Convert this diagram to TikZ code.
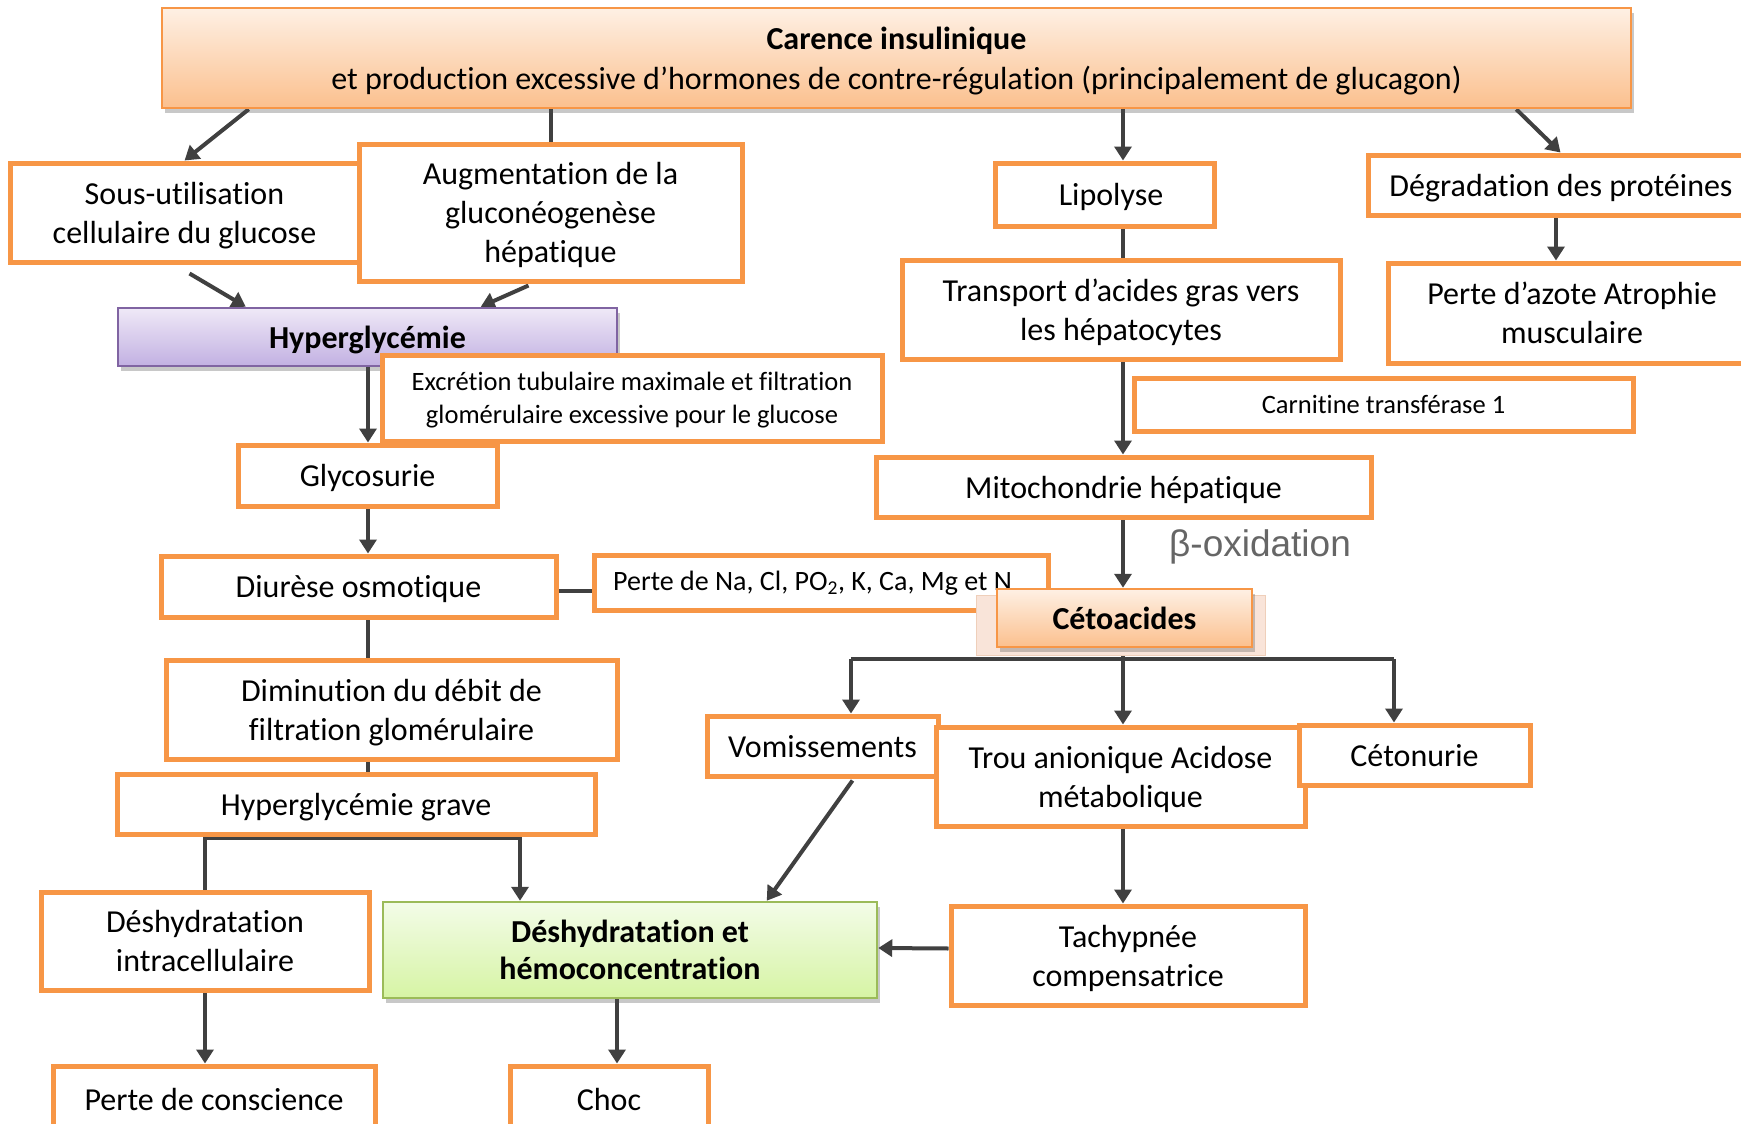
\documentclass[tikz,border=0pt]{standalone}
\usepackage{fontspec}
\setmainfont{Carlito}[Ligatures=NoCommon, Contextuals=NoAlternate, RawFeature={-clig}]
\newfontfamily\arialfont{Liberation Sans}
\usetikzlibrary{arrows.meta,calc,shadows,backgrounds}
\definecolor{boxor}{HTML}{F79646}
\definecolor{arrgray}{HTML}{404040}
\definecolor{ortop}{HTML}{FEF0E4}
\definecolor{orbot}{HTML}{FBC08E}
\definecolor{purtop}{HTML}{EFE9F7}
\definecolor{purbot}{HTML}{C2B0E2}
\definecolor{purdraw}{HTML}{8064A2}
\definecolor{grtop}{HTML}{F3FCE8}
\definecolor{grbot}{HTML}{D6F4A4}
\definecolor{grdraw}{HTML}{9BBB59}
\definecolor{cetoback}{HTML}{F8DDD0}
\tikzset{
  box/.style={draw=boxor, line width=5pt, fill=white, rectangle, inner sep=0pt, text depth=0pt,
    align=center, text=black, font=\fontsize{32}{39}\selectfont},
  smallbox/.style={box, font=\fontsize{26.5}{32.5}\selectfont},
  shadowed/.style={drop shadow={shadow xshift=3pt, shadow yshift=-5pt, opacity=0.3, fill=black!70}},
  topbox/.style={rectangle, draw=boxor, line width=2.5pt, top color=ortop, bottom color=orbot,
    inner sep=0pt, text depth=0pt, align=center, text=black, font=\fontsize{32}{40}\selectfont, shadowed},
  purbox/.style={rectangle, draw=purdraw, line width=2.5pt, top color=purtop, bottom color=purbot,
    inner sep=0pt, text depth=0pt, align=center, text=black, font=\bfseries\fontsize{32}{39}\selectfont, shadowed},
  grbox/.style={rectangle, draw=grdraw, line width=2.5pt, top color=grtop, bottom color=grbot,
    inner sep=0pt, text depth=0pt, align=center, text=black, font=\bfseries\fontsize{32}{37.5}\selectfont, shadowed},
  arr/.style={draw=arrgray, line width=4pt, -{Triangle[length=14pt,width=17pt]}},
  lin/.style={draw=arrgray, line width=4pt},
}
\begin{document}
\begin{tikzpicture}[x=1pt,y=-1pt]
\useasboundingbox (0,0) rectangle (1741,1124);

% ---- boxes ----
\node[topbox, minimum width=1469pt, minimum height=100pt] (top) at (896.5,58)
  {\textbf{Carence insulinique}\\et production excessive d’hormones de contre-régulation (principalement de glucagon)};

\node[box, minimum width=349pt, minimum height=99pt] (sous) at (184.5,212.5)
  {Sous-utilisation\\cellulaire du glucose};
\node[box, minimum width=383pt, minimum height=137pt] (aug) at (550.5,212.5)
  {Augmentation de la\\gluconéogenèse\\hépatique};

\node[purbox, minimum width=499pt, minimum height=58pt] (hyper) at (367.5,337) {Hyperglycémie};
\node[smallbox, minimum width=500pt, minimum height=86pt] (excr) at (632,398)
  {Excrétion tubulaire maximale et filtration\\glomérulaire excessive pour le glucose};

\node[box, minimum width=259pt, minimum height=61pt] (glyco) at (367.5,475.5) {Glycosurie};
\node[box, minimum width=395pt, minimum height=61pt] (diur) at (358.5,586.5) {Diurèse osmotique};
\node[box, minimum width=454pt, minimum height=55pt] (pertena) at (821,582.5) {};
\node[anchor=base west, inner sep=0pt, font=\fontsize{28}{34}\selectfont] (pertenatext) at (613,590)
  {Perte de Na, Cl, PO\textsubscript{2}, K, Ca, Mg et N};

\node[box, minimum width=451pt, minimum height=99pt] (dimin) at (391.5,709.5)
  {Diminution du débit de\\filtration glomérulaire};
\node[box, minimum width=478pt, minimum height=60pt] (hgrave) at (356,804) {Hyperglycémie grave};
\node[box, minimum width=328pt, minimum height=98pt] (dintra) at (205,941)
  {Déshydratation\\intracellulaire};
\node[grbox, minimum width=494pt, minimum height=96pt] (green) at (630,950)
  {Déshydratation et\\hémoconcentration};
\node[box, minimum width=322pt, minimum height=66pt] (pconsc) at (214,1099) {Perte de conscience};
\node[box, minimum width=198pt, minimum height=66pt] (choc) at (609,1099) {Choc};

\node[box, minimum width=219pt, minimum height=63pt] (lipo) at (1104.5,194.5) {\hspace*{13pt}Lipolyse};
\node[box, minimum width=386pt, minimum height=60pt] (degr) at (1561,185) {Dégradation des protéines};
\node[box, minimum width=438pt, minimum height=99pt] (transp) at (1121,309.5)
  {Transport d’acides gras vers\\les hépatocytes};
\node[box, minimum width=368pt, minimum height=100pt] (azote) at (1572,313)
  {Perte d’azote Atrophie\\musculaire};
\node[smallbox, minimum width=499pt, minimum height=53pt] (carn) at (1383.5,404.5) {Carnitine transférase 1};
\node[box, minimum width=495pt, minimum height=60pt] (mito) at (1123.5,487) {Mitochondrie hépatique};
\node[font=\arialfont\fontsize{37}{40}\selectfont, text=black!60, inner sep=0pt] (beta) at (1260,547) {β-oxidation};

\node[rectangle, draw=cetoback!85!brown, line width=1pt, fill=cetoback!80, minimum width=289pt, minimum height=60pt] (cetoshadow) at (1120.5,625) {};
\node[topbox, font=\bfseries\fontsize{32}{39}\selectfont, minimum width=255pt, minimum height=58pt] (ceto) at (1124.5,618) {Cétoacides};

\node[box, minimum width=231pt, minimum height=60pt] (vomi) at (822.5,746) {Vomissements};
\node[box, minimum width=369pt, minimum height=99pt] (trou) at (1120.5,776.5)
  {Trou anionique Acidose\\métabolique};
\node[box, minimum width=231pt, minimum height=60pt] (cetonurie) at (1414.5,755) {Cétonurie};
\node[box, minimum width=354pt, minimum height=99pt] (tachy) at (1128,955.5)
  {Tachypnée\\compensatrice};

% ---- connectors ----
\coordinate (hgL) at (205,838);
\coordinate (hgR) at (520,838);
\coordinate (gc) at (617,998);
\coordinate (brL) at (851,659);
\coordinate (brR) at (1394,659);
\coordinate (dx) at (1556,215);
\coordinate (ax) at (1123,100);
\coordinate (mainx) at (368,100);

\begin{scope}[on background layer]
\fill[white] (0,0) rectangle (1741,1124);
\draw[arr] ($(top.south west)+(88,0)$) -- ($(sous.north west)+(177,0)$);
\draw[lin] (aug.north |- top.south) -- (aug.north);
\draw[arr] (ax |- top.south) -- (ax |- lipo.north);
\draw[arr] ($(top.south east)+(-116,0)$) -- ($(degr.north west)+(195,0)$);
\draw[arr] ($(sous.south west)+(182,9)$) -- ($(hyper.north west)+(129,0)$);
\draw[arr] ($(aug.south west)+(172,2)$) -- ($(hyper.north west)+(364,0)$);
\draw[arr] (mainx |- hyper.south) -- (mainx |- glyco.north);
\draw[arr] (mainx |- glyco.south) -- (mainx |- diur.north);
\draw[lin] ($(diur.east)+(0,4.5)$) -- ($(pertena.west)+(0,8.5)$);
\draw[lin] (mainx |- diur.south) -- (mainx |- dimin.north);
\draw[lin] (mainx |- dimin.south) -- (mainx |- hgrave.north);
\draw[lin] (hgL |- hgrave.south) -- (dintra.north);
\draw[arr] (hgL) -- (hgR) -- (hgR |- green.north);
\draw[arr] (dintra.south) -- (dintra.south |- pconsc.north);
\draw[arr] (gc |- green.south) -- (gc |- choc.north);
\draw[arr] ($(vomi.south west)+(148,2)$) -- ($(green.north west)+(385,0)$);
\draw[arr] ($(tachy.west)+(0,-7)$) -- ($(green.east)+(0,-2)$);
\draw[lin] (ax |- lipo.south) -- (ax |- transp.north);
\draw[arr] (ax |- transp.south) -- (ax |- mito.north);
\draw[arr] (ax |- mito.south) -- (ax |- ceto.north);
\draw[arr] (ax |- ceto.south) -- (ax |- trou.north);
\draw[lin] (brL) -- (brR);
\draw[arr] (brL) -- (brL |- vomi.north);
\draw[arr] (brR) -- (brR |- cetonurie.north);
\draw[arr] (ax |- trou.south) -- (ax |- tachy.north);
\draw[arr] (dx |- degr.south) -- (dx |- azote.north);
\end{scope}
\end{tikzpicture}
\end{document}
